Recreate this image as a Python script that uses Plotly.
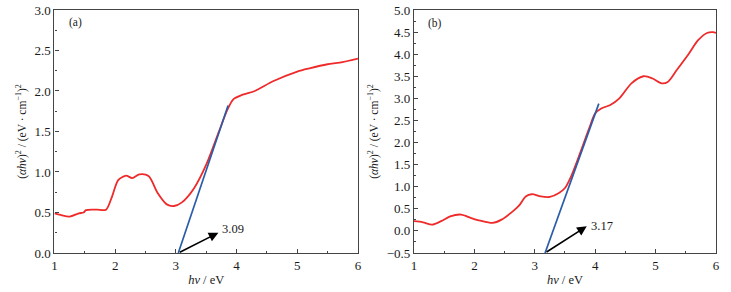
import plotly.graph_objects as go

# Panel (a)
xa = [1.0, 1.1, 1.25, 1.4, 1.48, 1.52, 1.7, 1.85, 1.95, 2.05, 2.18, 2.28, 2.4, 2.55, 2.7, 2.85, 2.97, 3.1, 3.3, 3.5, 3.7, 3.85, 3.95, 4.1, 4.3, 4.6, 5.0, 5.2, 5.5, 5.7, 6.0]
ya = [0.49, 0.47, 0.45, 0.49, 0.50, 0.53, 0.535, 0.535, 0.70, 0.90, 0.955, 0.925, 0.97, 0.95, 0.74, 0.60, 0.58, 0.625, 0.80, 1.09, 1.48, 1.77, 1.90, 1.955, 2.00, 2.12, 2.24, 2.28, 2.33, 2.35, 2.40]
fit_a_x = [3.04, 3.86]
fit_a_y = [0.0, 1.82]
gap_a = "3.09"

# Panel (b)
xb = [1.0, 1.15, 1.3, 1.45, 1.6, 1.78, 1.95, 2.1, 2.3, 2.45, 2.65, 2.75, 2.85, 2.95, 3.1, 3.25, 3.4, 3.5, 3.6, 3.75, 3.9, 4.0, 4.1, 4.25, 4.4, 4.6, 4.8, 4.95, 5.1, 5.2, 5.35, 5.55, 5.7, 5.85, 5.95, 6.0]
yb = [0.22, 0.195, 0.14, 0.22, 0.33, 0.37, 0.29, 0.23, 0.18, 0.255, 0.46, 0.59, 0.78, 0.83, 0.78, 0.77, 0.86, 0.97, 1.23, 1.76, 2.32, 2.66, 2.77, 2.85, 3.0, 3.34, 3.50, 3.45, 3.34, 3.37, 3.64, 4.01, 4.31, 4.48, 4.50, 4.48]
fit_b_x = [3.17, 4.06]
fit_b_y = [-0.5, 2.88]
gap_b = "3.17"

FONT = "Liberation Serif"
AX = "#444444"
TXT = "#1a1a1a"
RED = "#ee2a2a"
BLUE = "#2a5caa"

fig = go.Figure()
fig.add_trace(go.Scatter(x=xa, y=ya, mode="lines", line=dict(color=RED, width=1.8, shape="spline", smoothing=0.8), xaxis="x", yaxis="y", showlegend=False))
fig.add_trace(go.Scatter(x=fit_a_x, y=fit_a_y, mode="lines", line=dict(color=BLUE, width=1.7), xaxis="x", yaxis="y", showlegend=False))
fig.add_trace(go.Scatter(x=xb, y=yb, mode="lines", line=dict(color=RED, width=1.8, shape="spline", smoothing=0.8), xaxis="x2", yaxis="y2", showlegend=False))
fig.add_trace(go.Scatter(x=fit_b_x, y=fit_b_y, mode="lines", line=dict(color=BLUE, width=1.7), xaxis="x2", yaxis="y2", showlegend=False))

def xaxis(domain, anchor):
    return dict(domain=domain, anchor=anchor, range=[1, 6], dtick=1, tick0=1, automargin=False,
                showline=True, linecolor=AX, linewidth=1.2, mirror=True,
                ticks="inside", ticklen=4, tickcolor=AX, showgrid=False, zeroline=False,
                minor=dict(ticks="inside", ticklen=2, dtick=0.5, tickcolor=AX),
                ticklabeloverflow="allow",
                tickfont=dict(family=FONT, size=13, color=TXT),
                title=dict(text="<i>hν</i> / eV", font=dict(family=FONT, size=12.5, color=TXT), standoff=3))

def yaxis(domain, anchor, rng):
    return dict(domain=domain, anchor=anchor, range=rng, dtick=0.5, automargin=False,
                showline=True, linecolor=AX, linewidth=1.2, mirror=True,
                ticks="inside", ticklen=4, tickcolor=AX, showgrid=False, zeroline=False,
                minor=dict(ticks="inside", ticklen=2, dtick=0.25, tickcolor=AX),
                tickformat=".1f", ticklabeloverflow="allow",
                tickfont=dict(family=FONT, size=13, color=TXT),
                title=dict(text="(<i>αhν</i>)<sup>2</sup> / (eV · cm<sup>−1</sup>)<sup>2</sup>", font=dict(family=FONT, size=11.5, color=TXT), standoff=5))

fig.update_layout(
    width=731, height=292, margin=dict(l=0, r=0, t=0, b=0, autoexpand=False),
    paper_bgcolor="white", plot_bgcolor="white",
    xaxis=xaxis([0.0745, 0.4897], "y"),
    yaxis=yaxis([0.1336, 0.9658], "x", [0, 3.0]),
    xaxis2=xaxis([0.5663, 0.9795], "y2"),
    yaxis2=yaxis([0.1336, 0.9658], "x2", [-0.5, 5.0]),
    font=dict(family=FONT),
)

fig.add_annotation(x=3.70, y=0.25, ax=3.04, ay=0.0, xref="x", yref="y", axref="x", ayref="y",
                   text="", showarrow=True, arrowhead=2, arrowsize=1.2, arrowwidth=1.6, arrowcolor="black")
fig.add_annotation(x=3.72, y=0.29, xref="x", yref="y", text=gap_a, showarrow=False, xanchor="left",
                   font=dict(family=FONT, size=12.5, color=TXT))
fig.add_annotation(x=3.86, y=0.105, ax=3.17, ay=-0.5, xref="x2", yref="y2", axref="x2", ayref="y2",
                   text="", showarrow=True, arrowhead=2, arrowsize=1.2, arrowwidth=1.6, arrowcolor="black")
fig.add_annotation(x=3.89, y=0.10, xref="x2", yref="y2", text=gap_b, showarrow=False, xanchor="left",
                   font=dict(family=FONT, size=12.5, color=TXT))
fig.add_annotation(x=1.2, y=2.84, xref="x", yref="y", text="(a)", showarrow=False, xanchor="left",
                   font=dict(family=FONT, size=11.5, color=TXT))
fig.add_annotation(x=1.2, y=4.69, xref="x2", yref="y2", text="(b)", showarrow=False, xanchor="left",
                   font=dict(family=FONT, size=11.5, color=TXT))

# remove the page's default 8px body margin so the figure fills the window
fig.write_html("out.html", config={"displayModeBar": False},
               post_script="document.body.style.margin='0';")
